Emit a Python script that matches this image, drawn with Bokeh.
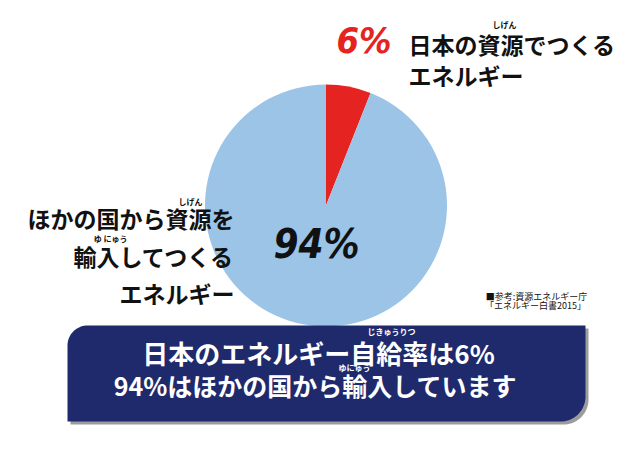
import numpy as np
from bokeh.plotting import figure
from bokeh.models import Range1d
from bokeh.core.properties import value
from bokeh.embed import file_html
from bokeh.resources import INLINE

# ---- data ----
share_labels = ["日本の資源", "輸入"]
shares = [6, 94]
share_colors = ["#e52421", "#9bc4e7"]

top_lines = ["日本の資源でつくる", "エネルギー"]
left_lines = ["ほかの国から資源を", "輸入してつくる", "エネルギー"]
banner_lines = ["日本のエネルギー自給率は6%", "94%はほかの国から輸入しています"]
source_lines = ["■参考:資源エネルギー庁", "「エネルギー白書2015」"]

PW, PH = 628, 434
JP = value("Noto Sans CJK JP")
NUMFONT = value("DejaVu Sans Condensed")

p = figure(width=PW, height=PH, output_backend="svg", toolbar_location=None,
           x_range=Range1d(0, PW), y_range=Range1d(0, PH), min_border=0)
p.axis.visible = False
p.grid.visible = False
p.outline_line_color = None
p.background_fill_color = "white"


def Y(y):  # reference-pixel y -> data y
    return PH - y


def txt(x, y, s, size, color="#111111", align="left", font=JP, style="bold"):
    p.text(x=[x], y=[Y(y)], text=[s], text_font=font, text_font_size=f"{size}px",
           text_font_style=style, text_color=color, text_align=align,
           text_baseline="middle")


# ---- pie ----
cx, cy, r = 325.5, 205, 121
fr = np.array(shares, dtype=float) / sum(shares)
ends = np.cumsum(fr)
starts = ends - fr
start_ang = np.pi / 2 - starts * 2 * np.pi
end_ang = np.pi / 2 - ends * 2 * np.pi
p.wedge(x=cx, y=Y(cy), radius=r, start_angle=start_ang, end_angle=end_ang,
        direction="clock", fill_color=share_colors, line_color=None)

# ---- banner ----
def banner_path(x0, x1, y0, y1, r_tl, r_br, n=20):
    xs, ys = [], []
    t = np.linspace(np.pi, np.pi / 2, n)
    xs += list(x0 + r_tl + r_tl * np.cos(t)); ys += list(y0 + r_tl - r_tl * np.sin(t))
    xs += [x1]; ys += [y0]
    t = np.linspace(0, -np.pi / 2, n)
    xs += list(x1 - r_br + r_br * np.cos(t)); ys += list(y1 - r_br - r_br * np.sin(t))
    xs += [x0]; ys += [y1]
    return np.array(xs), np.array([Y(v) for v in ys])

sx, sy = banner_path(70, 588, 328, 424, 20, 25)
p.patch(sx, sy, fill_color="#9c9c9c", line_color=None)
bx, by = banner_path(67, 585, 325, 421, 20, 25)
p.patch(bx, by, fill_color="#1f2a6c", line_color=None)

# ---- top-right label ----
txt(336, 40, f"{shares[0]}%", 36, color="#e52421", font=NUMFONT, style="bold italic")
txt(408, 43, top_lines[0], 23)
txt(408, 74, top_lines[1], 23)
txt(504, 24, "しげん", 8, align="center")

# ---- left label ----
txt(234, 217, left_lines[0], 23, align="right")
txt(234, 255, left_lines[1], 23, align="right")
txt(234, 292, left_lines[2], 23, align="right")
txt(190, 201, "しげん", 8, align="center")
txt(111, 238, "ゆ  にゅう", 8, align="center")

# ---- pie centre ----
txt(316, 243, f"{shares[1]}%", 40, color="#111111", font=NUMFONT,
    style="bold italic", align="center")

# ---- source ----
txt(536, 296, source_lines[0], 9, align="center", style="normal")
txt(535, 305, source_lines[1], 9, align="center", style="normal")

# ---- banner text ----
txt(318, 352, banner_lines[0], 26, color="white", align="center")
txt(315, 384, banner_lines[1], 25, color="white", align="center")
txt(391, 331, "じきゅうりつ", 8, color="white", align="center")
txt(354, 367, "ゆにゅう", 8, color="white", align="center")

open("out.html", "w").write(file_html(p, INLINE))
